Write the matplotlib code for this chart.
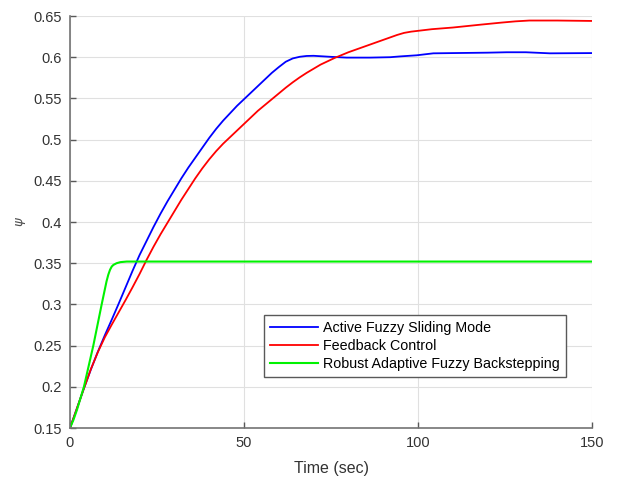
import matplotlib
matplotlib.use("Agg")
import matplotlib.pyplot as plt

# Data
t_blue = [0, 2, 4, 6, 8, 10, 12, 14, 16, 18, 20, 22, 24, 26, 28, 30, 32, 34, 36, 38, 40, 42,
          44, 46, 48, 50, 52, 54, 56, 58, 60, 62, 64, 66, 68, 70, 74.7, 79.5, 86.2, 92, 95,
          99.6, 102, 104.4, 110, 120, 125.5, 131, 137.9, 150]
v_blue = [0.15, 0.174, 0.198, 0.221, 0.2425, 0.2625, 0.2815, 0.301, 0.321, 0.341, 0.360,
          0.377, 0.394, 0.410, 0.425, 0.439, 0.453, 0.466, 0.478, 0.490, 0.502, 0.513, 0.523,
          0.532, 0.541, 0.549, 0.557, 0.565, 0.573, 0.581, 0.588, 0.5945, 0.5985, 0.6005,
          0.6015, 0.6017, 0.6005, 0.5995, 0.5995, 0.600, 0.601, 0.6023, 0.6035, 0.6047, 0.605,
          0.6055, 0.606, 0.606, 0.6047, 0.605]

t_red = [0, 2, 4, 6, 8, 10, 12, 14, 16, 18, 20, 22, 24, 26, 28, 30, 32, 34, 36, 38, 40, 42,
         44, 46, 48, 50, 52, 54, 56, 58, 60, 62, 64, 66, 68, 70, 72, 74, 76, 78, 80, 82, 84,
         86, 88, 90, 92, 94, 96, 98, 100, 104, 110, 118, 124, 128, 132, 140, 150]
v_red = [0.15, 0.174, 0.198, 0.2215, 0.242, 0.260, 0.2755, 0.2905, 0.3055, 0.321, 0.337,
         0.354, 0.370, 0.385, 0.399, 0.413, 0.427, 0.440, 0.453, 0.465, 0.476, 0.486, 0.495,
         0.503, 0.511, 0.519, 0.527, 0.535, 0.542, 0.549, 0.556, 0.563, 0.5695, 0.5755, 0.581,
         0.586, 0.591, 0.595, 0.599, 0.6025, 0.606, 0.609, 0.612, 0.615, 0.618, 0.621, 0.624,
         0.627, 0.6295, 0.631, 0.632, 0.634, 0.636, 0.6395, 0.642, 0.6435, 0.6445, 0.6445,
         0.644]

t_green = [0, 1, 2, 3, 4, 6.7, 9.1, 10, 10.5, 11, 11.5, 12, 12.5, 13.4, 14.5, 16.3, 30, 60,
           100, 150]
v_green = [0.15, 0.160, 0.172, 0.186, 0.2, 0.25, 0.3, 0.318, 0.328, 0.336, 0.342, 0.346,
           0.348, 0.350, 0.3513, 0.352, 0.352, 0.352, 0.352, 0.352]

labels = ["Active Fuzzy Sliding Mode", "Feedback Control", "Robust Adaptive Fuzzy Backstepping"]
xticks = [0, 50, 100, 150]
yticks = [0.15, 0.2, 0.25, 0.3, 0.35, 0.4, 0.45, 0.5, 0.55, 0.6, 0.65]
ytick_labels = ["0.15", "0.2", "0.25", "0.3", "0.35", "0.4", "0.45", "0.5", "0.55", "0.6", "0.65"]

plt.rcParams['font.family'] = ['Liberation Sans', 'DejaVu Sans']

fig = plt.figure(figsize=(6.19, 4.8), dpi=100)
ax = fig.add_axes([70/619, 52/480, 522/619, 412/480])

ax.plot(t_blue, v_blue, color=(0, 0, 1), lw=1.3, label=labels[0])
ax.plot(t_red, v_red, color=(1, 0, 0), lw=1.3, label=labels[1])
ax.plot(t_green, v_green, color=(0, 0.95, 0), lw=1.5, label=labels[2])

ax.set_xlim(0, 150)
ax.set_ylim(0.15, 0.65)
ax.set_xticks(xticks)
ax.set_yticks(yticks)
ax.set_yticklabels(ytick_labels)

ax.grid(True, color='0.88', lw=0.8)
ax.set_axisbelow(True)
for s in ['top', 'right']:
    ax.spines[s].set_visible(False)
for s in ['left', 'bottom']:
    ax.spines[s].set_color('0.45')
    ax.spines[s].set_linewidth(1.2)
ax.tick_params(direction='in', length=4, width=1, color='0.35', labelcolor='0.2',
               labelsize=10.5, pad=6)

ax.set_xlabel("Time (sec)", fontsize=11.5, color='0.2', labelpad=8)
ax.set_ylabel(r"$\psi$", fontsize=9.5, color='0.3', labelpad=4)

leg = ax.legend(loc='lower left', bbox_to_anchor=(0.3716, 0.1245), borderaxespad=0,
                fontsize=10.3, handlelength=3.4, handletextpad=0.33, labelspacing=0.28,
                fancybox=False, framealpha=1, edgecolor='0.35', borderpad=0.4)
leg.get_frame().set_linewidth(1.0)

fig.savefig("out.png", dpi=100, facecolor='white')
